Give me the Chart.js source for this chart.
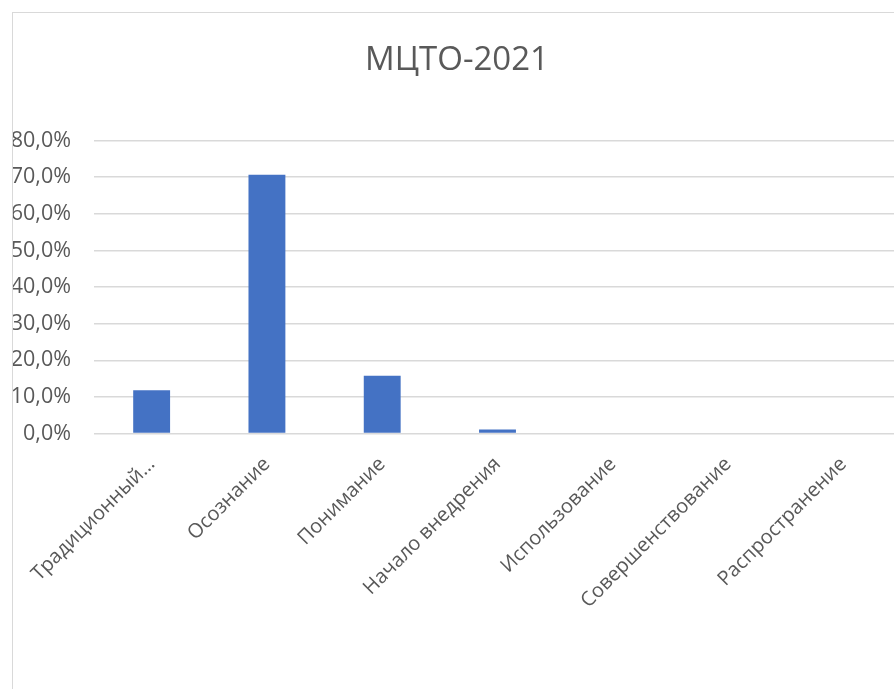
<!DOCTYPE html>
<html>
<head>
<meta charset="utf-8">
<script src="https://cdn.jsdelivr.net/npm/chart.js@4/dist/chart.umd.min.js"></script>
<style>
  html, body { margin: 0; padding: 0; background: #fff; overflow: hidden; }
  #frame {
    position: absolute; left: 12px; top: 12px;
    border: 1px solid #d9d9d9;
    width: 900px; height: 720px;
  }
  canvas { display: block; }
</style>
</head>
<body>
<div id="frame"><canvas id="chart" width="888" height="700"></canvas></div>
<script>
/* МЦТО-2021 chart */

const title = "МЦТО-2021";
const categories = [
  "Традиционный…", "Осознание", "Понимание", "Начало внедрения",
  "Использование", "Совершенствование", "Распространение"
];
const values = [11.8, 70.7, 15.8, 1.1, 0, 0, 0];   // percent
const yTicks = [0, 10, 20, 30, 40, 50, 60, 70, 80];

const textColor = "#595959";
const fontFamily = "'Open Sans', 'Noto Sans', sans-serif";

const fmt = v => v.toFixed(1).replace(".", ",") + "%";

new Chart(document.getElementById("chart"), {
  type: "bar",
  data: {
    labels: categories,
    datasets: [{
      data: values,
      backgroundColor: "#4472c4",
      borderWidth: 0,
      categoryPercentage: 1,
      barPercentage: 0.32
    }]
  },
  options: {
    responsive: false,
    animation: false,
    layout: { padding: 0 },
    plugins: {
      legend: { display: false },
      tooltip: { enabled: false },
      title: {
        display: true,
        text: title,
        color: textColor,
        font: { family: fontFamily, size: 33, weight: "normal" },
        padding: { top: 28, bottom: 60 }
      }
    },
    scales: {
      x: {
        grid: { display: false },
        border: { display: false },
        ticks: {
          color: textColor,
          font: { family: fontFamily, size: 20 },
          minRotation: 45,
          maxRotation: 45,
          autoSkip: false,
          padding: 11
        },
        afterFit: s => { s.height = 700 - 420.5; }
      },
      y: {
        min: yTicks[0],
        max: yTicks[yTicks.length - 1],
        afterBuildTicks: s => { s.ticks = yTicks.map(v => ({ value: v })); },
        border: { display: false },
        grid: { color: "#d9d9d9", lineWidth: 1.5, drawTicks: false },
        ticks: {
          color: textColor,
          font: { family: fontFamily, size: 21.5 },
          padding: 23,
          callback: v => fmt(v)
        },
        afterFit: s => { s.width = 81; }
      }
    }
  }
});
</script>
</body>
</html>
